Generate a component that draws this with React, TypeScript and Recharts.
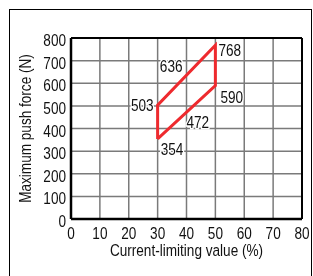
import React from "react";
import {
  ComposedChart,
  Line,
  XAxis,
  YAxis,
  CartesianGrid,
  ReferenceLine,
  ReferenceDot,
  LabelList,
} from "recharts";

// polygon corners, closed back to the first point
const currentLimit = [30, 30, 50, 50, 30];
const pushForce = [354, 503, 768, 590, 354];

// values printed halfway along the two slanted edges
const edgeCurrent = [40, 40];
const edgeForce = [636, 472];

const xTicks = [0, 10, 20, 30, 40, 50, 60, 70, 80];
const yTicks = [0, 100, 200, 300, 400, 500, 600, 700, 800];

const xTitle = "Current-limiting value (%)";
const yTitle = "Maximum push force (N)";

const FONT = "'Liberation Sans', Arial, sans-serif";
const SQUEEZE = 0.8; // the original uses a condensed face
const RED = "#ee2a2e";
const GRID = "#7a7a7a";

// label placement per corner / edge label (dx, dy from the point)
const cornerOffsets = [
  { dx: 3, dy: 10, anchor: "start" },
  { dx: -4, dy: 0, anchor: "end" },
  { dx: 3, dy: 5, anchor: "start" },
  { dx: 5, dy: 11, anchor: "start" },
];
const edgeOffsets = [
  { dx: -4, dy: -9, anchor: "end" },
  { dx: 0, dy: 10, anchor: "start" },
];

const boundary = currentLimit.map((c, i) => ({ current: c, force: pushForce[i] }));

// narrow text: draw at origin, scale horizontally, then move into place
function NarrowText({ x, y, anchor = "middle", rotate = 0, halo = false, children }: any) {
  return (
    <g transform={`translate(${x} ${y}) rotate(${rotate}) scale(${SQUEEZE} 1)`}>
      <text
        x={0}
        y={0}
        textAnchor={anchor}
        dominantBaseline="central"
        fontFamily={FONT}
        fontSize={17}
        fill="#111"
        stroke={halo ? "#fff" : "none"}
        strokeWidth={halo ? 3 : 0}
        paintOrder="stroke"
      >
        {children}
      </text>
    </g>
  );
}

function XTick({ x, y, payload }: any) {
  return <NarrowText x={x} y={y + 12}>{payload.value}</NarrowText>;
}

function YTick({ x, y, payload }: any) {
  return (
    <NarrowText x={x} y={y + 2} anchor="end">
      {payload.value}
    </NarrowText>
  );
}

function ValueText({ x, y, value, off }: any) {
  if (!off) return null;
  return (
    <NarrowText x={x + off.dx} y={y + off.dy} anchor={off.anchor} halo>
      {value}
    </NarrowText>
  );
}

export default function App() {
  return (
    <div
      style={{
        position: "fixed",
        left: 9,
        top: 9,
        width: 301,
        height: 290,
        border: "1px solid #000",
      }}
    >
      <ComposedChart
        width={301}
        height={264}
        data={boundary}
        margin={{ top: 28, right: 9, left: 0, bottom: 15 }}
      >
        <CartesianGrid stroke={GRID} strokeWidth={1.5} />
        <XAxis
          type="number"
          dataKey="current"
          domain={[0, 80]}
          ticks={xTicks}
          interval={0}
          height={40}
          tick={<XTick />}
          tickLine={false}
          tickSize={0}
          axisLine={{ stroke: "#000", strokeWidth: 2.5 }}
          label={{
            content: ({ viewBox }: any) => (
              <NarrowText x={viewBox.x + viewBox.width / 2} y={viewBox.y + 31}>
                {xTitle}
              </NarrowText>
            ),
          }}
        />
        <YAxis
          type="number"
          domain={[0, 800]}
          ticks={yTicks}
          interval={0}
          width={61}
          tick={<YTick />}
          tickLine={false}
          tickSize={0}
          tickMargin={5}
          axisLine={{ stroke: "#000", strokeWidth: 2.5 }}
          label={{
            content: ({ viewBox }: any) => (
              <NarrowText x={viewBox.x + 15} y={viewBox.y + viewBox.height / 2} rotate={-90}>
                {yTitle}
              </NarrowText>
            ),
          }}
        />
        <ReferenceLine x={80} stroke="#000" strokeWidth={2} />
        <ReferenceLine y={800} stroke="#000" strokeWidth={2} />
        <Line
          dataKey="force"
          stroke={RED}
          strokeWidth={3}
          dot={false}
          activeDot={false}
          isAnimationActive={false}
          strokeLinejoin="miter"
        >
          <LabelList
            dataKey="force"
            content={(p: any) => (
              <ValueText x={p.x} y={p.y} value={p.value} off={cornerOffsets[p.index]} />
            )}
          />
        </Line>
        {edgeForce.map((f, i) => (
          <ReferenceDot
            key={i}
            x={edgeCurrent[i]}
            y={f}
            r={0}
            fill="none"
            stroke="none"
            label={{
              content: ({ viewBox }: any) => (
                <ValueText x={viewBox.x} y={viewBox.y} value={f} off={edgeOffsets[i]} />
              ),
            }}
          />
        ))}
      </ComposedChart>
    </div>
  );
}
